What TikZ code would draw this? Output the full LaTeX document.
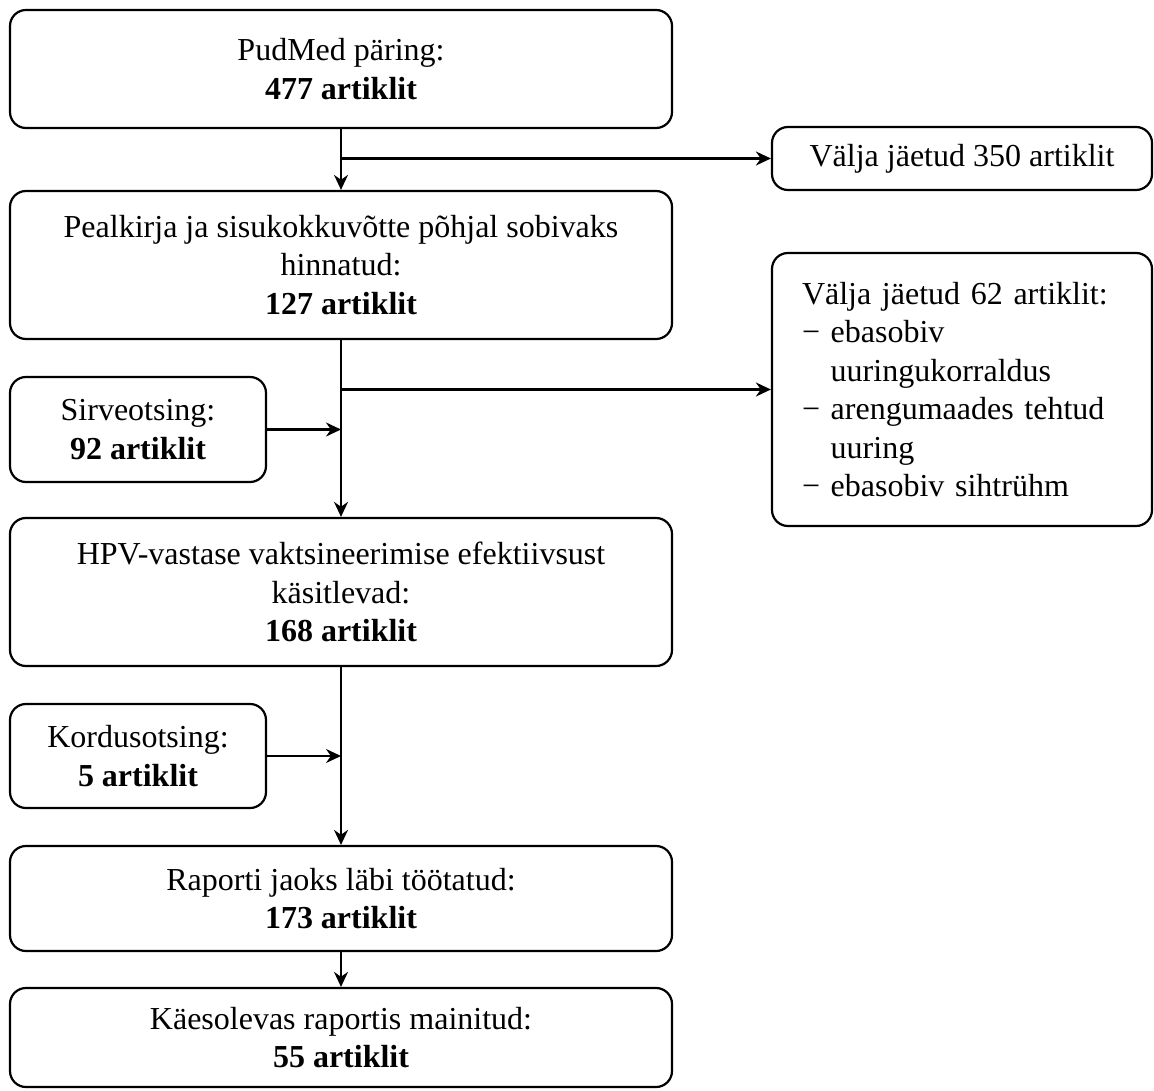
\documentclass[tikz,border=0pt]{standalone}
\usepackage{fontspec}
\setmainfont{Liberation Serif}
\usepackage{tikz}
\usetikzlibrary{arrows.meta, positioning, calc}

\begin{document}
\begin{tikzpicture}[
    x=0.5pt, y=-0.5pt,
    every node/.style={font=\fontsize{16}{19.2}\selectfont},
    stagebox/.style={draw, line width=1.1pt, rounded corners=8pt, align=center, minimum width=331pt, inner sep=0pt},
    sidebox/.style={stagebox, minimum width=128pt},
    exclbox/.style={stagebox, minimum width=190pt},
    flow/.style={-{Stealth[length=7.5pt, width=7pt]}, line width=1.1pt}
]
\useasboundingbox (0,0) rectangle (1154,1090);

\node[stagebox, minimum height=59pt] (query) at (341,69) {PudMed päring:\\\textbf{477 artiklit}};
\node[exclbox, minimum height=31.5pt] (excla) at (962,158.5) {Välja jäetud 350 artiklit};
\node[stagebox, minimum height=74pt] (title) at (341,265) {Pealkirja ja sisukokkuvõtte põhjal sobivaks\\hinnatud:\\\textbf{127 artiklit}};
\node[exclbox, minimum height=136.5pt, align=left, text width=160pt, inner xsep=15pt] (exclb) at (962,389.5) {Välja jäetud 62 artiklit:\\− ebasobiv\\\phantom{− }uuringukorraldus\\− arengumaades tehtud\\\phantom{− }uuring\\− ebasobiv sihtrühm};
\node[sidebox, minimum height=52.5pt] (browse) at (138,429.5) {Sirveotsing:\\\textbf{92 artiklit}};
\node[stagebox, minimum height=74pt] (hpv) at (341,592) {HPV-vastase vaktsineerimise efektiivsust\\käsitlevad:\\\textbf{168 artiklit}};
\node[sidebox, minimum height=52pt] (repeat) at (138,756) {Kordusotsing:\\\textbf{5 artiklit}};
\node[stagebox, minimum height=52.5pt] (report) at (341,898.5) {Raporti jaoks läbi töötatud:\\\textbf{173 artiklit}};
\node[stagebox, minimum height=49.5pt] (cited) at (341,1037.5) {Käesolevas raportis mainitud:\\\textbf{55 artiklit}};

\coordinate (splita) at (query.south |- excla.west);
\coordinate (splitb) at (title.south |- exclb.west);
\coordinate (joina) at (title.south |- browse.east);
\coordinate (joinb) at (hpv.south |- repeat.east);

\draw[flow] (query.south) -- (title.north);
\draw[flow] (splita) -- (excla.west);
\draw[flow] (title.south) -- (hpv.north);
\draw[flow] (splitb) -- (exclb.west);
\draw[flow] (browse.east) -- (joina);
\draw[flow] (hpv.south) -- (report.north);
\draw[flow] (repeat.east) -- (joinb);
\draw[flow] (report.south) -- (cited.north);

\end{tikzpicture}
\end{document}
